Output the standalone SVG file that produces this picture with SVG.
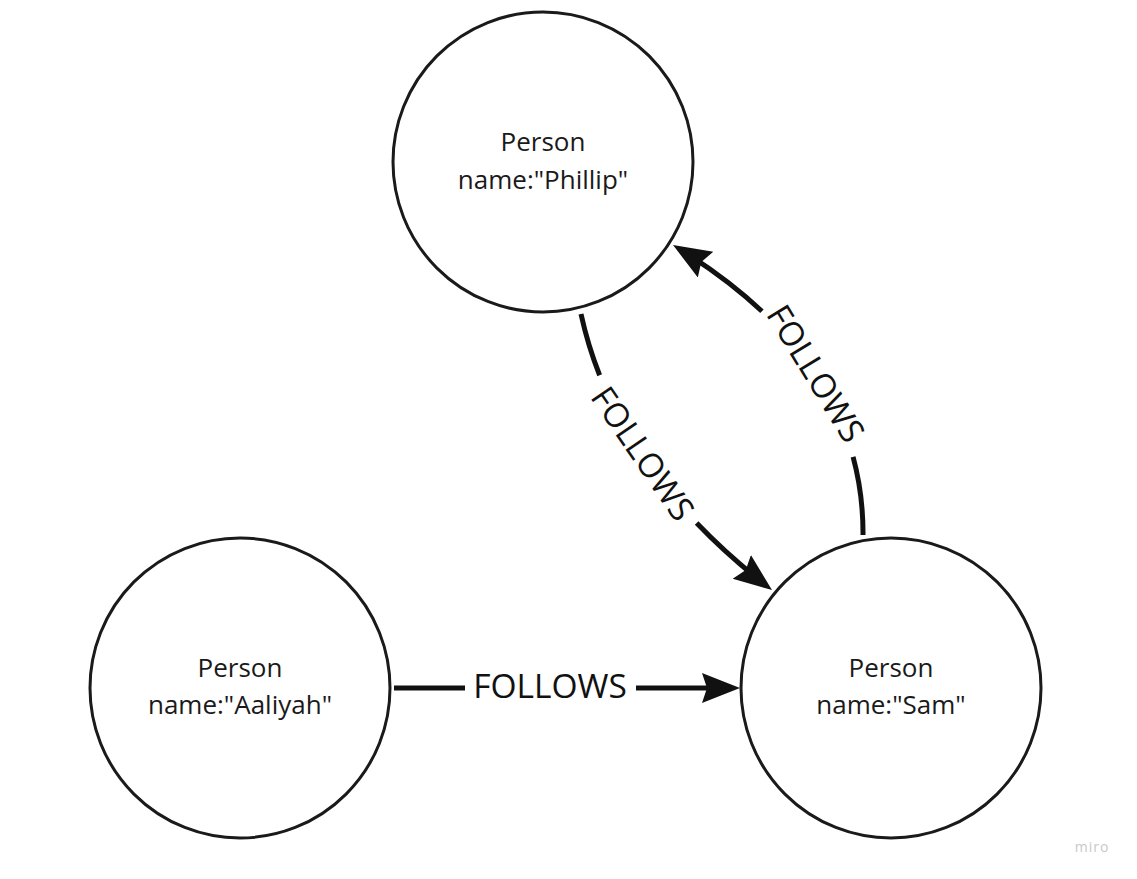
<svg xmlns="http://www.w3.org/2000/svg" width="1137" height="879" viewBox="0 0 1137 879">
<style>
.node{fill:#ffffff;stroke:#1a1a1a;stroke-width:3}
.ntext{font-family:"Open Sans","Noto Sans","Liberation Sans",sans-serif;font-size:26px;fill:#1a1a1a;text-anchor:middle}
.edge{fill:none;stroke:#111111;stroke-width:5}
.elabel{font-family:"Open Sans","Noto Sans","Liberation Sans",sans-serif;font-size:33.5px;fill:#111111;text-anchor:middle}
.wm{font-family:"Open Sans","Noto Sans","Liberation Sans",sans-serif;font-size:14px;fill:#c8c8cc;text-anchor:middle;letter-spacing:1px}
</style>
<defs>
<marker id="arrow" markerUnits="userSpaceOnUse" markerWidth="40" markerHeight="32" refX="38" refY="15" orient="auto" viewBox="0 0 40 32">
<path d="M0,0 L38,15 L0,30 L5,15 z" fill="#111111"/>
</marker>
</defs>
<rect x="0" y="0" width="1137" height="879" fill="#ffffff"/>
<g id="edges">
<g id="edge-aaliyah-sam">
<path class="edge" d="M394,688 L740,688" stroke-dasharray="71 171 74 40" marker-end="url(#arrow)"/>
<text class="elabel" x="550" y="698">FOLLOWS</text>
</g>
<g id="edge-phillip-sam">
<path class="edge" d="M581,314 Q615,470 772,590" pathLength="100" stroke-dasharray="18.7 51.9 23.4 10" marker-end="url(#arrow)"/>
<text class="elabel" x="0" y="0" transform="translate(642,454) rotate(55.5)" dy="11">FOLLOWS</text>
</g>
<g id="edge-sam-phillip">
<path class="edge" d="M863,535 Q864,360 673,245" pathLength="100" stroke-dasharray="21.7 47.8 25 10" marker-end="url(#arrow)"/>
<text class="elabel" x="0" y="0" transform="translate(815,374) rotate(58.5)" dy="11">FOLLOWS</text>
</g>
</g>
<g id="node-phillip">
<circle class="node" cx="543" cy="162" r="150"/>
<text class="ntext" x="543" y="151">Person</text>
<text class="ntext" x="543" y="189">name:"Phillip"</text>
</g>
<g id="node-aaliyah">
<circle class="node" cx="240" cy="688" r="150"/>
<text class="ntext" x="240" y="677">Person</text>
<text class="ntext" x="240" y="714">name:"Aaliyah"</text>
</g>
<g id="node-sam">
<circle class="node" cx="891" cy="688" r="150"/>
<text class="ntext" x="891" y="677">Person</text>
<text class="ntext" x="891" y="714">name:"Sam"</text>
</g>
<text class="wm" x="1092" y="852">miro</text>
</svg>
